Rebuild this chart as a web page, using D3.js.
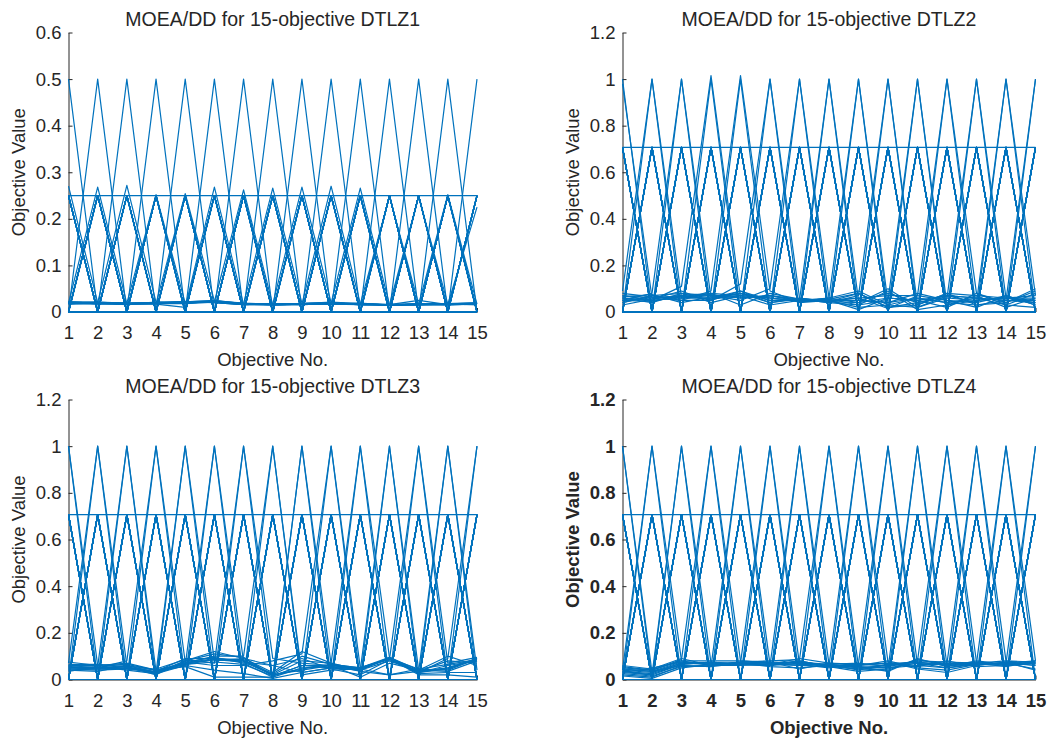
<!DOCTYPE html>
<html>
<head>
<meta charset="utf-8">
<script src="https://cdn.jsdelivr.net/npm/d3@7"></script>
<style>
  body { margin: 0; background: #fff; }
  text { font-family: "Liberation Sans", Arial, Helvetica, sans-serif; fill: #262626; }
</style>
</head>
<body>
<svg id="chart" width="1054" height="742"></svg>
<script>
// objective indices (x axis)
var objectives = [1, 2, 3, 4, 5, 6, 7, 8, 9, 10, 11, 12, 13, 14, 15];

var titles = [
  "MOEA/DD for 15-objective DTLZ1",
  "MOEA/DD for 15-objective DTLZ2",
  "MOEA/DD for 15-objective DTLZ3",
  "MOEA/DD for 15-objective DTLZ4"
];

var yTicksDTLZ1 = [0, 0.1, 0.2, 0.3, 0.4, 0.5, 0.6];
var yTicksOther = [0, 0.2, 0.4, 0.6, 0.8, 1, 1.2];

// boundary-layer solutions: one objective at the extreme value, or two at the pair value, rest 0
var extremeLevel = [0.5, 1, 1, 1];
var pairLevel = [0.25, 0.707, 0.707, 0.707];

// inner-layer solutions, one row per solution
var innerDTLZ1 = [
  [0.270, 0.020, 0.019, 0.020, 0.021, 0.022, 0.018, 0.017, 0.018, 0.019, 0.017, 0.016, 0.017, 0.018, 0.019],
  [0.019, 0.268, 0.018, 0.019, 0.020, 0.021, 0.017, 0.016, 0.017, 0.018, 0.018, 0.015, 0.016, 0.017, 0.018],
  [0.021, 0.020, 0.272, 0.021, 0.022, 0.020, 0.016, 0.015, 0.016, 0.020, 0.016, 0.016, 0.018, 0.016, 0.017],
  [0.022, 0.021, 0.019, 0.252, 0.019, 0.023, 0.017, 0.016, 0.017, 0.019, 0.017, 0.015, 0.017, 0.017, 0.016],
  [0.018, 0.019, 0.017, 0.018, 0.254, 0.024, 0.019, 0.017, 0.018, 0.021, 0.018, 0.016, 0.016, 0.018, 0.018],
  [0.020, 0.018, 0.018, 0.017, 0.010, 0.268, 0.016, 0.018, 0.016, 0.018, 0.016, 0.014, 0.015, 0.016, 0.017],
  [0.017, 0.019, 0.016, 0.019, 0.021, 0.022, 0.262, 0.015, 0.017, 0.017, 0.019, 0.015, 0.016, 0.017, 0.020],
  [0.019, 0.017, 0.017, 0.018, 0.022, 0.025, 0.018, 0.266, 0.019, 0.018, 0.017, 0.016, 0.017, 0.018, 0.018],
  [0.020, 0.020, 0.018, 0.020, 0.020, 0.021, 0.017, 0.017, 0.268, 0.020, 0.015, 0.015, 0.016, 0.015, 0.017],
  [0.018, 0.018, 0.019, 0.019, 0.023, 0.020, 0.016, 0.016, 0.017, 0.270, 0.018, 0.014, 0.018, 0.017, 0.016],
  [0.021, 0.019, 0.017, 0.021, 0.019, 0.023, 0.018, 0.017, 0.018, 0.019, 0.266, 0.016, 0.025, 0.016, 0.018],
  [0.019, 0.021, 0.018, 0.020, 0.021, 0.022, 0.017, 0.016, 0.016, 0.018, 0.017, 0.248, 0.017, 0.018, 0.019],
  [0.020, 0.018, 0.019, 0.018, 0.018, 0.021, 0.016, 0.018, 0.017, 0.017, 0.016, 0.015, 0.248, 0.017, 0.018],
  [0.018, 0.020, 0.017, 0.019, 0.022, 0.024, 0.018, 0.017, 0.018, 0.020, 0.017, 0.016, 0.016, 0.252, 0.017],
  [0.021, 0.019, 0.018, 0.020, 0.020, 0.022, 0.017, 0.015, 0.017, 0.019, 0.018, 0.015, 0.017, 0.016, 0.225]
];

var innerDTLZ2 = [
  [0.980, 0.060, 0.070, 0.055, 0.080, 0.050, 0.050, 0.050, 0.020, 0.030, 0.020, 0.070, 0.060, 0.050, 0.040],
  [0.090, 1.000, 0.060, 0.080, 0.070, 0.060, 0.045, 0.045, 0.060, 0.015, 0.070, 0.050, 0.040, 0.070, 0.030],
  [0.050, 0.080, 1.000, 0.060, 0.090, 0.040, 0.055, 0.040, 0.030, 0.090, 0.010, 0.030, 0.070, 0.060, 0.060],
  [0.070, 0.050, 0.110, 1.015, 0.060, 0.070, 0.050, 0.055, 0.080, 0.020, 0.030, 0.080, 0.030, 0.040, 0.100],
  [0.040, 0.070, 0.050, 0.090, 1.015, 0.090, 0.040, 0.050, 0.010, 0.060, 0.050, 0.020, 0.080, 0.030, 0.020],
  [0.060, 0.040, 0.080, 0.050, 0.120, 1.000, 0.060, 0.045, 0.040, 0.100, 0.020, 0.060, 0.050, 0.060, 0.070],
  [0.080, 0.065, 0.060, 0.070, 0.050, 0.100, 1.000, 0.060, 0.090, 0.030, 0.060, 0.040, 0.030, 0.050, 0.050],
  [0.030, 0.055, 0.090, 0.040, 0.070, 0.030, 0.050, 1.000, 0.050, 0.080, 0.040, 0.070, 0.060, 0.030, 0.080],
  [0.065, 0.075, 0.040, 0.065, 0.080, 0.060, 0.045, 0.060, 1.000, 0.040, 0.080, 0.050, 0.020, 0.070, 0.030],
  [0.050, 0.045, 0.070, 0.080, 0.030, 0.080, 0.055, 0.040, 0.070, 1.000, 0.030, 0.080, 0.070, 0.020, 0.060],
  [0.070, 0.060, 0.050, 0.050, 0.090, 0.050, 0.050, 0.055, 0.030, 0.050, 1.000, 0.030, 0.050, 0.060, 0.040],
  [0.040, 0.070, 0.080, 0.070, 0.060, 0.070, 0.045, 0.050, 0.060, 0.070, 0.070, 1.000, 0.080, 0.040, 0.090],
  [0.060, 0.050, 0.060, 0.060, 0.080, 0.040, 0.060, 0.045, 0.080, 0.020, 0.040, 0.060, 1.000, 0.060, 0.050],
  [0.050, 0.060, 0.070, 0.055, 0.070, 0.060, 0.050, 0.060, 0.040, 0.060, 0.050, 0.070, 0.040, 1.000, 0.070],
  [0.060, 0.050, 0.065, 0.075, 0.060, 0.070, 0.055, 0.050, 0.050, 0.040, 0.060, 0.040, 0.060, 0.050, 1.000]
];

var innerDTLZ3 = [
  [1.000, 0.060, 0.065, 0.040, 0.070, 0.090, 0.085, 0.020, 0.040, 0.060, 0.045, 0.090, 0.035, 0.050, 0.085],
  [0.070, 1.000, 0.060, 0.030, 0.080, 0.110, 0.095, 0.015, 0.060, 0.050, 0.040, 0.095, 0.040, 0.045, 0.090],
  [0.050, 0.055, 1.000, 0.035, 0.065, 0.085, 0.080, 0.025, 0.100, 0.065, 0.050, 0.085, 0.030, 0.060, 0.080],
  [0.060, 0.050, 0.080, 1.000, 0.075, 0.095, 0.070, 0.010, 0.050, 0.055, 0.045, 0.090, 0.045, 0.040, 0.088],
  [0.040, 0.045, 0.050, 0.030, 1.000, 0.080, 0.090, 0.030, 0.120, 0.070, 0.040, 0.080, 0.035, 0.080, 0.070],
  [0.065, 0.065, 0.055, 0.025, 0.060, 1.000, 0.075, 0.060, 0.030, 0.050, 0.050, 0.095, 0.030, 0.050, 0.090],
  [0.045, 0.040, 0.045, 0.045, 0.085, 0.070, 1.000, 0.090, 0.070, 0.060, 0.010, 0.070, 0.040, 0.100, 0.060],
  [0.055, 0.050, 0.060, 0.030, 0.070, 0.100, 0.100, 1.000, 0.020, 0.040, 0.045, 0.090, 0.025, 0.030, 0.030],
  [0.075, 0.060, 0.070, 0.040, 0.055, 0.010, 0.010, 0.010, 1.000, 0.065, 0.035, 0.020, 0.045, 0.065, 0.085],
  [0.035, 0.055, 0.040, 0.025, 0.075, 0.060, 0.060, 0.080, 0.110, 1.000, 0.050, 0.090, 0.020, 0.020, 0.010],
  [0.050, 0.045, 0.050, 0.035, 0.090, 0.090, 0.080, 0.020, 0.080, 0.070, 1.000, 0.095, 0.030, 0.045, 0.090],
  [0.060, 0.060, 0.045, 0.030, 0.060, 0.040, 0.025, 0.005, 0.030, 0.050, 0.040, 1.000, 0.040, 0.035, 0.080],
  [0.045, 0.050, 0.055, 0.020, 0.080, 0.120, 0.090, 0.060, 0.090, 0.045, 0.020, 0.085, 1.000, 0.070, 0.095],
  [0.040, 0.035, 0.060, 0.040, 0.065, 0.075, 0.065, 0.015, 0.060, 0.060, 0.045, 0.020, 0.035, 1.000, 0.040],
  [0.055, 0.045, 0.050, 0.030, 0.070, 0.085, 0.075, 0.020, 0.045, 0.065, 0.050, 0.090, 0.030, 0.090, 1.000]
];

var innerDTLZ4 = [
  [1.000, 0.030, 0.070, 0.065, 0.070, 0.065, 0.075, 0.060, 0.055, 0.050, 0.070, 0.050, 0.065, 0.070, 0.060],
  [0.040, 1.000, 0.080, 0.060, 0.075, 0.070, 0.060, 0.065, 0.050, 0.060, 0.075, 0.060, 0.070, 0.065, 0.075],
  [0.030, 0.020, 1.000, 0.070, 0.065, 0.060, 0.080, 0.055, 0.065, 0.070, 0.060, 0.070, 0.060, 0.075, 0.040],
  [0.055, 0.040, 0.085, 1.000, 0.080, 0.075, 0.070, 0.060, 0.045, 0.040, 0.085, 0.065, 0.075, 0.060, 0.070],
  [0.020, 0.010, 0.060, 0.055, 1.000, 0.065, 0.090, 0.070, 0.060, 0.080, 0.050, 0.040, 0.065, 0.070, 0.080],
  [0.045, 0.035, 0.075, 0.070, 0.070, 1.000, 0.065, 0.050, 0.070, 0.055, 0.080, 0.075, 0.070, 0.080, 0.065],
  [0.035, 0.025, 0.065, 0.075, 0.065, 0.060, 1.000, 0.065, 0.040, 0.065, 0.055, 0.080, 0.055, 0.060, 0.075],
  [0.060, 0.045, 0.090, 0.060, 0.075, 0.080, 0.085, 1.000, 0.055, 0.035, 0.090, 0.055, 0.080, 0.065, 0.070],
  [0.015, 0.005, 0.050, 0.065, 0.070, 0.055, 0.050, 0.060, 1.000, 0.075, 0.045, 0.030, 0.060, 0.075, 0.060],
  [0.050, 0.040, 0.080, 0.080, 0.080, 0.070, 0.075, 0.065, 0.070, 1.000, 0.065, 0.065, 0.070, 0.055, 0.080],
  [0.025, 0.015, 0.055, 0.060, 0.060, 0.065, 0.060, 0.055, 0.035, 0.045, 1.000, 0.060, 0.065, 0.070, 0.045],
  [0.040, 0.030, 0.070, 0.070, 0.065, 0.075, 0.045, 0.070, 0.065, 0.060, 0.080, 1.000, 0.075, 0.065, 0.070],
  [0.030, 0.050, 0.075, 0.065, 0.075, 0.060, 0.070, 0.060, 0.060, 0.070, 0.070, 0.070, 1.000, 0.080, 0.075],
  [0.045, 0.035, 0.060, 0.055, 0.070, 0.070, 0.065, 0.065, 0.050, 0.050, 0.060, 0.050, 0.070, 1.000, 0.080],
  [0.035, 0.020, 0.065, 0.075, 0.065, 0.065, 0.080, 0.055, 0.045, 0.065, 0.075, 0.060, 0.065, 0.070, 1.000]
];

var innerSets = [innerDTLZ1, innerDTLZ2, innerDTLZ3, innerDTLZ4];
var yTickSets = [yTicksDTLZ1, yTicksOther, yTicksOther, yTicksOther];

// panel layout (pixels)
var panels = [
  {left: 68.5, right: 477, top: 32.5, bottom: 312, bold: false},
  {left: 622.5, right: 1035.5, top: 32.5, bottom: 312, bold: false},
  {left: 68.5, right: 477, top: 399.5, bottom: 679.5, bold: false},
  {left: 622.5, right: 1035.5, top: 399.5, bottom: 679.5, bold: true}
];

var lineColor = "#0072BD";
var axisColor = "#262626";
var svg = d3.select("#chart");

panels.forEach(function(p, pi) {
  var yTicks = yTickSets[pi];
  var x = d3.scaleLinear().domain([objectives[0], objectives[objectives.length - 1]]).range([p.left, p.right]);
  var y = d3.scaleLinear().domain([0, yTicks[yTicks.length - 1]]).range([p.bottom, p.top]);
  var weight = p.bold ? "bold" : "normal";

  // build the population for this panel
  var n = objectives.length;
  var rows = [];
  for (var i = 0; i < n; i++) {
    rows.push(objectives.map(function(o, k) { return k === i ? extremeLevel[pi] : 0; }));
  }
  for (var a = 0; a < n; a++) {
    for (var b = a + 1; b < n; b++) {
      rows.push(objectives.map(function(o, k) { return (k === a || k === b) ? pairLevel[pi] : 0; }));
    }
  }
  innerSets[pi].forEach(function(r) { rows.push(r); });

  var g = svg.append("g");

  // axes below the data, like matlab
  var xAxis = d3.axisBottom(x).tickValues(objectives).tickSize(-4).tickSizeOuter(0).tickFormat(d3.format("d"));
  var gx = g.append("g").attr("transform", "translate(0," + p.bottom + ")").call(xAxis);
  gx.selectAll("text").attr("y", 27).attr("dy", 0)
    .style("font-size", "18.5px").style("font-weight", weight);

  var yAxis = d3.axisLeft(y).tickValues(yTicks).tickSize(-4).tickSizeOuter(0).tickPadding(7)
    .tickFormat(function(d) { return String(+d.toFixed(1)); });
  var gy = g.append("g").attr("transform", "translate(" + p.left + ",0)").call(yAxis);
  gy.selectAll("text").style("font-size", "18.5px").style("font-weight", weight);

  g.selectAll(".domain, .tick line").attr("stroke", axisColor);
  g.selectAll(".tick text").attr("fill", axisColor).style("font-family", "'Liberation Sans', Arial, sans-serif");

  var line = d3.line()
    .x(function(v, k) { return x(objectives[k]); })
    .y(function(v) { return y(v); });

  g.append("g").selectAll("path")
    .data(rows)
    .enter().append("path")
    .attr("fill", "none")
    .attr("stroke", lineColor)
    .attr("stroke-width", 1.2)
    .attr("stroke-linejoin", "round")
    .attr("d", line);

  g.append("text")
    .attr("x", (p.left + p.right) / 2)
    .attr("y", p.top - 6.5)
    .attr("text-anchor", "middle")
    .style("font-size", "19.5px")
    .text(titles[pi]);

  g.append("text")
    .attr("x", (p.left + p.right) / 2)
    .attr("y", p.bottom + 54)
    .attr("text-anchor", "middle")
    .style("font-size", "18.5px")
    .style("font-weight", weight)
    .text("Objective No.");

  g.append("text")
    .attr("transform", "translate(" + (p.left - 44) + "," + ((p.top + p.bottom) / 2) + ") rotate(-90)")
    .attr("text-anchor", "middle")
    .style("font-size", "18.5px")
    .style("font-weight", weight)
    .text("Objective Value");
});
</script>
</body>
</html>
